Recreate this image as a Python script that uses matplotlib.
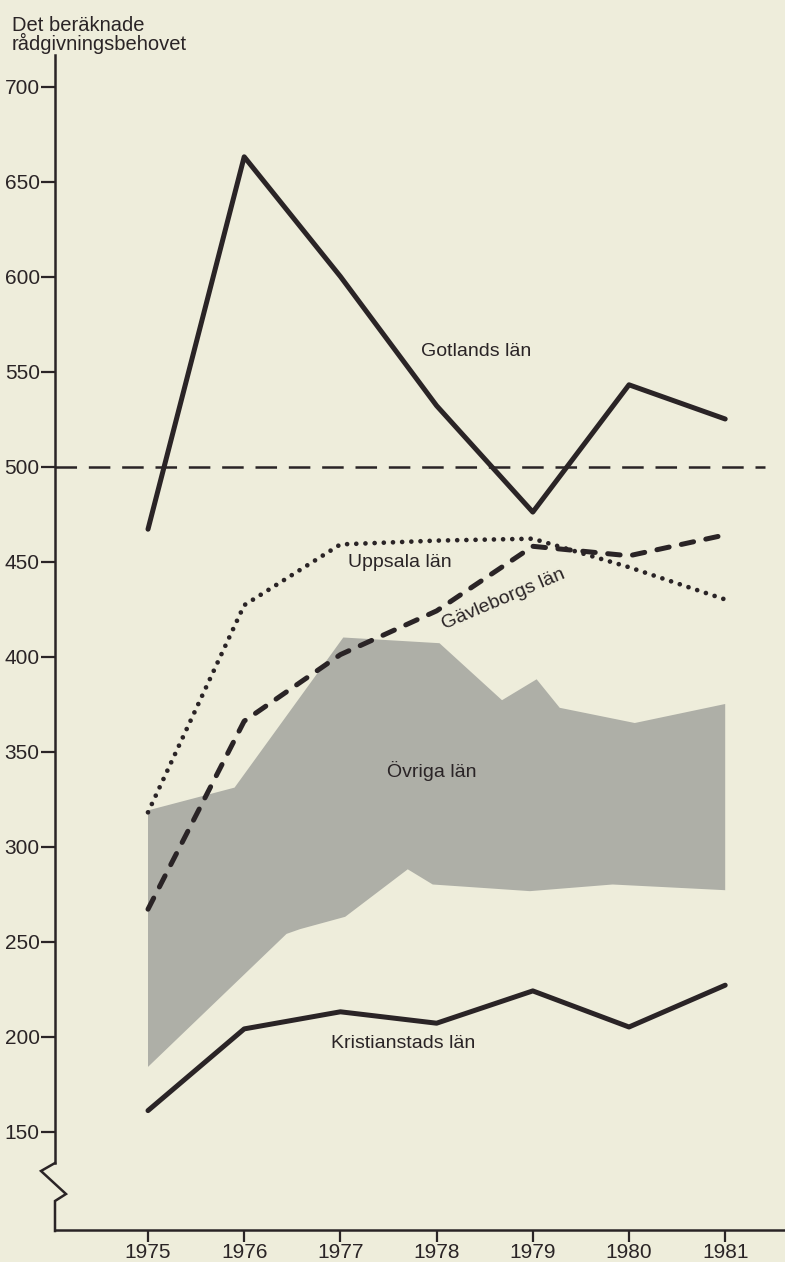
import matplotlib
matplotlib.use("Agg")
import matplotlib.pyplot as plt
from matplotlib.lines import Line2D

# ---- data -------------------------------------------------------------
years = [1975, 1976, 1977, 1978, 1979, 1980, 1981]
gotland = [467, 663, 600, 532, 476, 543, 525]
uppsala = [318, 427, 459, 461, 462, 447, 430]
gavleborg = [267, 366, 401, 424, 458, 453, 464]
kristianstad = [161, 204, 213, 207, 224, 205, 227]

# envelope of the remaining counties (upper and lower outline)
ovriga_top_x = [1975.0, 1975.9, 1977.03, 1978.03, 1978.68, 1979.04, 1979.28, 1980.06, 1981.0]
ovriga_top = [319, 331, 410, 407, 377, 388, 373, 365, 375]
ovriga_bot_x = [1975.0, 1976.44, 1976.58, 1977.05, 1977.7, 1977.96, 1978.97, 1979.83, 1981.0]
ovriga_bot = [184, 254, 256.5, 263, 288, 280, 276.5, 280, 277]

reference_level = 500
y_ticks = [150, 200, 250, 300, 350, 400, 450, 500, 550, 600, 650, 700]

# ---- styling ----------------------------------------------------------
W, H = 785, 1262
BG = "#EEEDDB"
INK = "#2A2426"
BAND = "#AEAFA7"

plt.rcParams["font.family"] = ["Liberation Sans", "DejaVu Sans"]
plt.rcParams["lines.scale_dashes"] = False

fig = plt.figure(figsize=(W / 100, H / 100), dpi=100, facecolor=BG)

# axes frame in pixel terms: left spine at x=55, baseline at y=1230, top at y=55
ax_left, ax_right, ax_top, ax_bottom = 55, 785, 55, 1230
ax = fig.add_axes([ax_left / W, 1 - ax_bottom / H,
                   (ax_right - ax_left) / W, (ax_bottom - ax_top) / H])
ax.set_facecolor(BG)

# scale: 1975 sits 93 px right of the spine, 96.2 px per year; 1.9 px per unit
px_year, px_unit = 96.2, 1.9
x0 = 1975 - (148 - ax_left) / px_year
x1 = x0 + (ax_right - ax_left) / px_year
y0 = reference_level - (ax_bottom - 466.5) / px_unit
y1 = reference_level + (466.5 - ax_top) / px_unit
ax.set_xlim(x0, x1)
ax.set_ylim(y0, y1)


def at(px, py):
    """Pixel position (from the top-left corner) to data coordinates."""
    return 1975 + (px - 148) / px_year, reference_level + (466.5 - py) / px_unit


# shaded band
poly_x = list(ovriga_top_x) + list(ovriga_bot_x[::-1])
poly_y = list(ovriga_top) + list(ovriga_bot[::-1])
ax.fill(poly_x, poly_y, color=BAND, lw=0, zorder=1)

# reference level
ax.plot([x0, at(765, 0)[0]], [reference_level] * 2,
        color=INK, lw=1.8, dashes=(15.5, 8.5), zorder=2)

# county lines
ax.plot(years, gotland, color=INK, lw=3.6, solid_joinstyle="round",
        solid_capstyle="round", zorder=3)
ax.plot(years, kristianstad, color=INK, lw=3.6, solid_joinstyle="round",
        solid_capstyle="round", zorder=3)
ax.plot(years, gavleborg, color=INK, lw=3.6, dashes=(9.0, 9.0),
        dash_capstyle="round", dash_joinstyle="round", zorder=3)
ax.plot(years, uppsala, color=INK, lw=3.4, dashes=(0.01, 6.6),
        dash_capstyle="round", zorder=3)

# labels
lab = dict(color=INK, fontsize=14, ha="center", va="center")
ax.text(*at(476, 352), "Gotlands län", **lab)
ax.text(*at(400, 562), "Uppsala län", **lab)
ax.text(*at(503, 599), "Gävleborgs län", rotation=23, rotation_mode="anchor", **lab)
ax.text(*at(432, 771), "Övriga län", **lab)
ax.text(*at(403, 1044), "Kristianstads län", **lab)

# axes, ticks
for s in ("top", "right"):
    ax.spines[s].set_visible(False)
for s in ("left", "bottom"):
    ax.spines[s].set_color(INK)
    ax.spines[s].set_linewidth(1.8)
break_top = 1163
ax.spines["left"].set_bounds(at(0, break_top)[1], y1)

ax.set_xticks(years)
ax.set_xticklabels([str(y) for y in years])
ax.set_yticks(y_ticks)
ax.tick_params(axis="y", direction="out", length=10, width=1.6, pad=1,
               labelsize=15, colors=INK)
ax.tick_params(axis="x", direction="out", length=8.5, width=1.6, pad=1,
               labelsize=15, colors=INK)

# axis break (zig-zag) below the lowest tick
zig = [(55, break_top), (41, 1171), (66, 1194), (55, 1201), (55, 1231)]
fig.add_artist(Line2D([p[0] / W for p in zig], [1 - p[1] / H for p in zig],
                      transform=fig.transFigure, color=INK, lw=1.8,
                      solid_joinstyle="miter"))

# axis title
fig.text(12 / W, 1 - 31 / H, "Det beräknade", color=INK, fontsize=14.5,
         ha="left", va="baseline")
fig.text(12 / W, 1 - 50 / H, "rådgivningsbehovet", color=INK, fontsize=14.5,
         ha="left", va="baseline")

fig.savefig("out.png", dpi=100, facecolor=BG)
